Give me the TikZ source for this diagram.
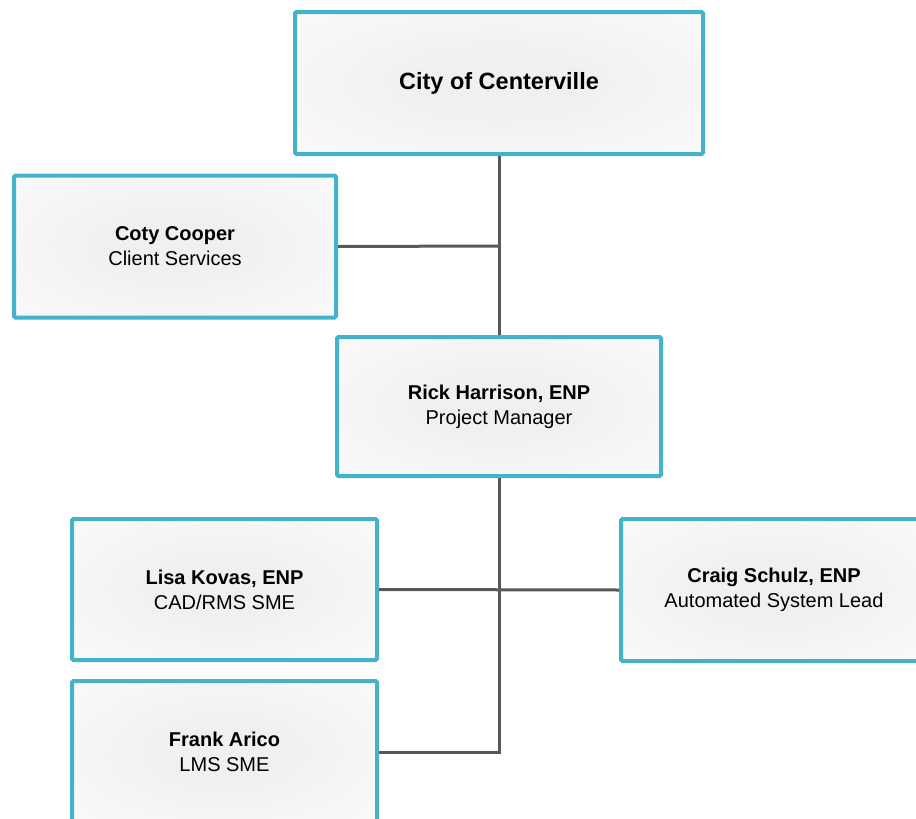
\documentclass[tikz,border=0pt]{standalone}
\usepackage{fontspec}
\setmainfont{Liberation Sans}
\definecolor{boxblue}{RGB}{68,179,202}
\definecolor{linegray}{RGB}{88,88,88}
\definecolor{boxcenter}{RGB}{240,240,240}
\pgfdeclareradialshading{softradial}{\pgfpoint{0bp}{0bp}}{color(0bp)=(boxcenter); color(10bp)=(boxcenter); color(48bp)=(white); color(72bp)=(white)}
\tikzset{
  orgbox/.style={draw=boxblue, line width=4pt, rounded corners=1.5pt,
    shading=softradial,
    minimum width=305pt, minimum height=142pt, align=center,
    font=\fontsize{20}{25}\selectfont, text=black, inner sep=0pt},
  conn/.style={draw=linegray, line width=3pt}
}
\begin{document}
\begin{tikzpicture}[x=1pt,y=-1pt]
\useasboundingbox (0,0) rectangle (916,819);
\clip (0,0) rectangle (916,819);
\fill[white] (0,0) rectangle (916,819);
\coordinate (cotyjoin) at (499,246);
\coordinate (frankjoin) at (499,752);
\node[orgbox, minimum width=408pt, minimum height=142pt,
      font=\fontsize{23.5}{28}\selectfont\bfseries] (city) at (499,83) {City of Centerville};
\node[orgbox, minimum width=322pt] (coty) at (175,246.5) {\textbf{Coty Cooper}\\Client Services};
\node[orgbox, minimum width=324pt, minimum height=139pt] (rick) at (499,406.5) {\textbf{Rick Harrison, ENP}\\Project Manager};
\node[orgbox, minimum height=141pt] (lisa) at (224.5,589.5) {\textbf{Lisa Kovas, ENP}\\CAD/RMS SME};
\node[orgbox, minimum width=306pt] (craig) at (774,590) {\textbf{Craig Schulz, ENP}\\Automated System Lead};
\node[orgbox] (frank) at (224.5,752) {\textbf{Frank Arico}\\LMS SME};
\path[conn] (city.south) -- (rick.north);
\path[conn] (coty.east) -- (cotyjoin);
\path[conn] (rick.south) -- (frankjoin) -- (frank.east);
\path[conn] (lisa.east) -- (craig.west);
\end{tikzpicture}
\end{document}
